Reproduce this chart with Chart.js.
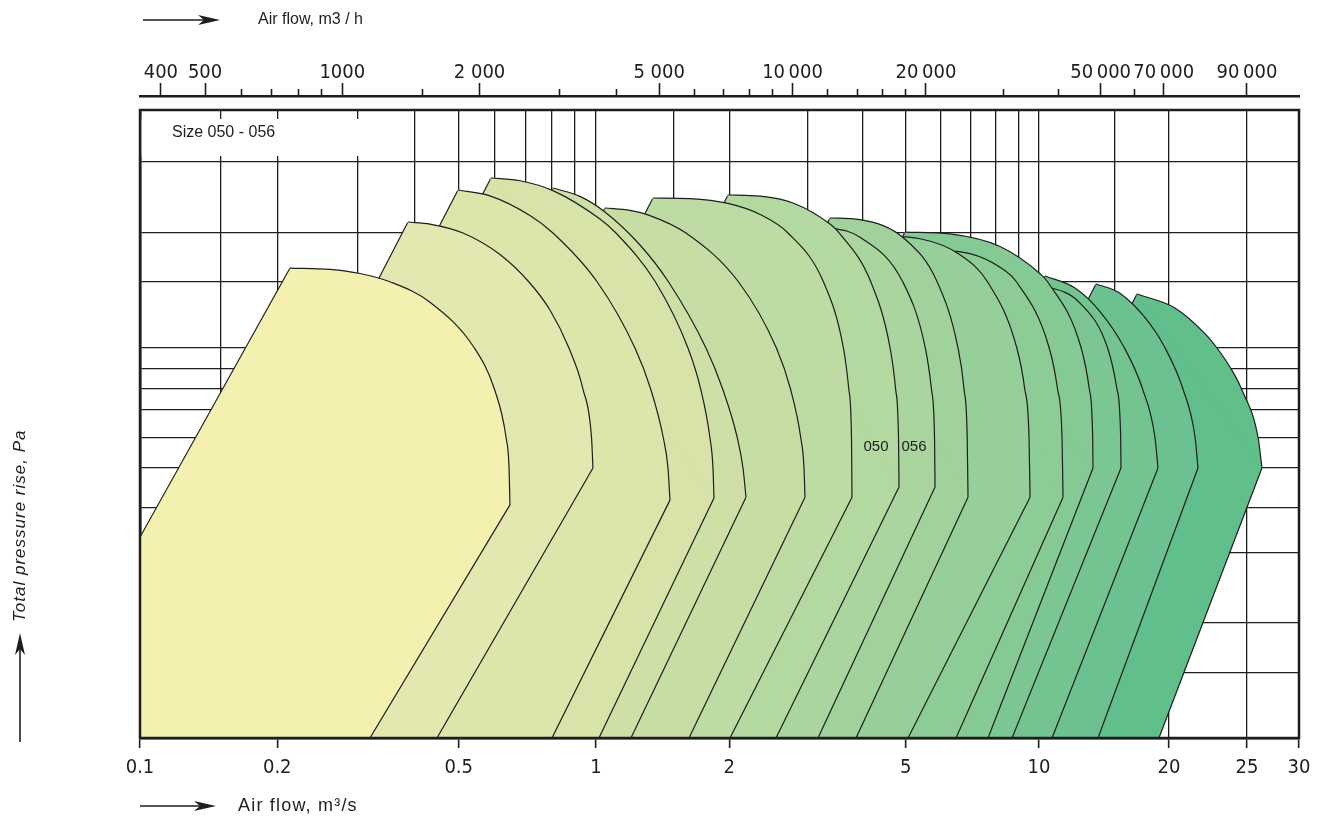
<!DOCTYPE html>
<html><head><meta charset="utf-8">
<script src="https://cdn.jsdelivr.net/npm/chart.js@4.4.1/dist/chart.umd.min.js"></script>
<style>html,body{margin:0;padding:0;background:#fff}#wrap{width:1327px;height:823px}</style>
</head><body><div id="wrap"><canvas id="c" width="1327" height="823"></canvas></div>
<script>
// ---------- axis values ----------
const X_GRID = [0.1,0.15,0.2,0.3,0.4,0.5,0.6,0.7,0.8,0.9,1,1.5,2,3,4,5,6,7,8,9,10,15,20,25,30];
const X_TICK_VALUES = [0.1,0.2,0.5,1,2,5,10,20,25,30];
const X_TICK_LABELS = ['0.1','0.2','0.5','1','2','5','10','20','25','30'];
const TOP_MAJOR_M3H = [400,500,1000,2000,5000,10000,20000,50000,70000,90000];
const TOP_MAJOR_LABELS = ['400','500','1000','2 000','5 000','10\u2009000','20\u2009000','50\u2009000','70\u2009000','90\u2009000'];
const TOP_MINOR_M3H = [600,700,800,900,1500,3000,4000,6000,7000,8000,9000,12000,14000,16000,18000,30000,40000,60000];
const Y_GRID = [100,150,200,300,400,500,600,700,800,900,1000,1500,2000,3000,4000];
// calibration of the printed (non-uniform) log axes: value -> fraction of axis length
const X_WARP_VALUES = [0.1, 1, 10, 20, 25, 30];
const X_WARP_FRACS  = [0, 0.3934, 0.7757, 0.8878, 0.9551, 1];
const Y_WARP_VALUES = Y_GRID;
const Y_WARP_FRACS  = [0, 0.1035, 0.1831, 0.2946, 0.3662, 0.4299, 0.4777, 0.5223, 0.5557, 0.5876, 0.6210, 0.7261, 0.8041, 0.9172, 1];

// ---------- fan regions: [airflow m3/s, total pressure Pa] ----------
// Arc: top curve from peak to knee.  Base: foot of the rising edge, foot of the falling edge.
const r01Arc = [[0.2133,1628],[0.2610,1616],[0.3037,1577],[0.3544,1500],[0.4324,1325],[0.5412,1000],[0.5987,800],[0.6354,600],[0.6448,500],[0.6477,407]];
const r01Base = [[0.0568,100],[0.3194,100]];
const r02Arc = [[0.3870,2130],[0.4324,2105],[0.5109,2000],[0.6158,1763],[0.7130,1500],[0.7927,1263],[0.8725,1000],[0.9365,800],[0.9780,600],[0.9850,500]];
const r02Base = [[0.1006,100],[0.4480,100]];
const r03Arc = [[0.4982,2557],[0.5855,2473],[0.7166,2210],[0.8048,2000],[1.0068,1500],[1.2247,1000],[1.3289,800],[1.4195,600],[1.4539,500],[1.4691,418]];
const r03Base = [[0.1192,100],[0.8008,100]];
const r04Arc = [[0.5885,2738],[0.6813,2696],[0.8048,2548],[1.0210,2166],[1.1095,2000],[1.3625,1500],[1.6131,1000],[1.7233,800],[1.8086,600],[1.8370,500],[1.8466,423]];
const r04Base = [[0.1364,100],[1.0157,100]];
const r05Arc = [[0.8048,2586],[0.9224,2465],[1.0479,2255],[1.2570,1864],[1.4584,1500],[1.7712,1000],[1.9320,800],[2.0853,600],[2.1470,500],[2.1808,425]];
const r05Base = [[0.1914,100],[1.1995,100]];
const r06Arc = [[1.0479,2307],[1.1933,2277],[1.3103,2219],[1.5964,2000],[2.0984,1500],[2.5540,1000],[2.7482,800],[2.8994,600],[2.9481,500],[2.9632,425]];
const r06Base = [[0.2623,100],[1.6216,100]];
const r07Arc = [[1.3448,2443],[1.6300,2434],[1.9860,2368],[2.3453,2224],[2.7128,2000],[3.2625,1500],[3.6180,1000],[3.7209,800],[3.7735,600],[3.7833,425]];
const r07Base = [[0.3256,100],[2.0068,100]];
const r08Arc = [[1.9860,2485],[2.3453,2468],[2.7842,2374],[3.3747,2105],[3.5417,2000],[4.1739,1500],[4.6117,1000],[4.7458,800],[4.8178,600],[4.8304,450]];
const r08Base = [[0.4720,100],[2.5487,100]];
const r09Arc = [[2.8873,2082],[3.3747,2061],[3.9441,1951],[4.9268,1500],[5.5381,1000],[5.7165,800],[5.8094,600],[5.8245,450]];
const r09Base = [[0.7360,100],[3.1704,100]];
const r10Arc = [[3.3747,2179],[3.9441,2158],[4.9835,1929],[5.8914,1500],[6.5637,1000],[6.7716,800],[6.8850,600],[6.9138,425]];
const r10Base = [[0.8389,100],[3.8630,100]];
const r11Arc = [[4.3758,1965],[5.3874,1934],[6.6322,1760],[7.6548,1500],[8.9105,1000],[9.2837,800],[9.4935,600],[9.5429,425]];
const r11Base = [[1.1358,100],[5.0618,100]];
const r12Arc = [[5.6749,1810],[6.9857,1772],[8.1648,1636],[8.8964,1500],[10.559,1000],[11.037,800],[11.305,600],[11.365,425]];
const r12Base = [[1.5290,100],[6.4958,100]];
const r13Arc = [[4.9835,2011],[6.2964,1989],[8.1648,1847],[10.054,1575],[10.475,1500],[12.523,1000],[13.076,800],[13.315,600],[13.336,500]];
const r13Base = [[1.2794,100],[7.6708,100]];
const r14Arc = [[9.0591,1473],[10.604,1449],[12.443,1318],[14.416,1000],[15.156,800],[15.458,600],[15.483,500]];
const r14Base = [[2.6819,100],[8.6910,100]];
const r15Arc = [[10.325,1554],[12.116,1446],[13.843,1251],[15.775,1000],[17.374,800],[18.570,600],[18.860,500]];
const r15Base = [[2.9803,100],[10.718,100]];
const r16Arc = [[13.551,1482],[15.401,1399],[18.072,1160],[19.597,1000],[20.817,800],[21.556,600],[21.730,500]];
const r16Base = [[3.9708,100],[13.696,100]];
const r17Arc = [[16.863,1393],[20.346,1279],[22.170,1092],[22.944,1000],[23.813,909],[24.616,800],[26.001,600],[26.350,500]];
const r17Base = [[5.0487,100],[18.960,100]];

const REGIONS = [
  [r01Arc,r01Base],[r02Arc,r02Base],[r03Arc,r03Base],[r04Arc,r04Base],[r05Arc,r05Base],[r06Arc,r06Base],
  [r07Arc,r07Base],[r08Arc,r08Base],[r09Arc,r09Base],[r10Arc,r10Base],[r11Arc,r11Base],[r12Arc,r12Base],
  [r13Arc,r13Base],[r14Arc,r14Base],[r15Arc,r15Base],[r16Arc,r16Base],[r17Arc,r17Base]
];
const REGION_COLORS = ['#f4f0b0','#e3e8b0','#dce5aa','#d7e3a8','#cfe0a6','#c6dea4','#bddba2','#b3d8a0','#aad59e',
  '#a1d29c','#97cf9a','#8ecc97','#85c995','#7cc693','#74c491','#6bc18f','#60bf8b'];

const REGION_LABELS = ['050','056'];
const REGION_LABEL_X = [4.286, 5.222];
const REGION_LABEL_Y = [568, 568];
const PANEL_TITLE = 'Size 050 - 056';
const X_TITLE = 'Air flow, m\u00b3/s';
const X2_TITLE = 'Air flow, m3 / h';
const Y_TITLE = 'Total pressure rise, Pa';

// ---------- custom scale: log axis printed with non-uniform spacing ----------
const WARPS = {
  x:  {v: X_WARP_VALUES, f: X_WARP_FRACS},
  x2: {v: X_WARP_VALUES, f: X_WARP_FRACS},
  y:  {v: Y_WARP_VALUES, f: Y_WARP_FRACS}
};
function warpFrac(w, v){
  const vs = w.v, fs = w.f;
  let i = 0;
  if (v >= vs[vs.length-1]) i = vs.length-2;
  else if (v > vs[0]) { while (v > vs[i+1]) i++; }
  const l0 = Math.log10(vs[i]), l1 = Math.log10(vs[i+1]);
  return fs[i] + (Math.log10(v)-l0)/(l1-l0)*(fs[i+1]-fs[i]);
}
function unwarp(w, f){
  const vs = w.v, fs = w.f;
  let i = 0;
  if (f >= fs[fs.length-1]) i = fs.length-2;
  else if (f > fs[0]) { while (f > fs[i+1]) i++; }
  const l0 = Math.log10(vs[i]), l1 = Math.log10(vs[i+1]);
  return Math.pow(10, l0 + (f-fs[i])/(fs[i+1]-fs[i])*(l1-l0));
}
class WarpLogScale extends Chart.LogarithmicScale {
  getPixelForValue(value){
    if (value === undefined || value === 0) value = this.min;
    if (value === null || isNaN(value) || value <= 0) return NaN;
    return this.getPixelForDecimal(warpFrac(WARPS[this.id], value));
  }
  getValueForPixel(pixel){ return unwarp(WARPS[this.id], this.getDecimalForPixel(pixel)); }
}
WarpLogScale.id = 'warplog';
Chart.register(WarpLogScale);

// ---------- build ----------
const INK = '#1e1e1e';
const CLEAR = 'rgba(0,0,0,0)';
const TICK_FONT = {family: "'Liberation Sans Narrow','DejaVu Sans Condensed','Liberation Sans',Arial,sans-serif", size: 20, lineHeight: 1};
const pts = a => a.map(([x,y]) => ({x, y}));
const datasets = [];
REGIONS.forEach(([arc, base], i) => {
  const P = arc[0], K = arc[arc.length-1], L = base[0], B = base[1];
  const col = REGION_COLORS[i], k = 4*i;
  // k: falling edge + foot (outline)
  datasets.push({data: pts([L, B, K]), borderColor: INK, borderWidth: 1.2, pointRadius: 0, fill: false});
  // k+1: top curve, filled down to the chord
  datasets.push({data: pts(arc), borderColor: INK, borderWidth: 1.2, pointRadius: 0, cubicInterpolationMode: 'monotone',
    fill: k + 3, backgroundColor: col});
  // k+2: rising edge + chord, filled down to dataset k
  datasets.push({data: pts([L, P, K]), borderColor: INK, borderWidth: 1.2, pointRadius: 0, fill: k, backgroundColor: col,
    segment: {borderColor: c => c.p0DataIndex === 1 ? col : undefined, borderWidth: c => c.p0DataIndex === 1 ? 2 : undefined}});
  // k+3: chord (fill target only)
  datasets.push({data: pts([P, K]), borderColor: CLEAR, borderWidth: 1, pointRadius: 0, fill: false});
});
const topTicks = TOP_MAJOR_M3H.map((v,i) => ({m3h: v, label: TOP_MAJOR_LABELS[i], major: true}))
  .concat(TOP_MINOR_M3H.map(v => ({m3h: v, label: '', major: false})))
  .sort((a,b) => a.m3h - b.m3h);

function arrow(ctx, x1, y1, x2, y2){
  const ang = Math.atan2(y2-y1, x2-x1);
  const len = Math.hypot(x2-x1, y2-y1);
  ctx.save();
  ctx.translate(x2, y2); ctx.rotate(ang);
  ctx.strokeStyle = INK; ctx.fillStyle = INK; ctx.lineWidth = 1.6;
  ctx.beginPath(); ctx.moveTo(-len, 0); ctx.lineTo(-14, 0); ctx.stroke();
  ctx.beginPath(); ctx.moveTo(0, 0); ctx.lineTo(-22, -5); ctx.lineTo(-16, 0); ctx.lineTo(-22, 5); ctx.closePath(); ctx.fill();
  ctx.restore();
}

const decor = {
  id: 'decor',
  beforeDatasetsDraw(chart){
    const {ctx, chartArea: a} = chart;
    ctx.save();
    ctx.fillStyle = '#fff';
    ctx.fillRect(a.left + 1.5, a.top + 9, 405 - a.left, 37);
    ctx.fillStyle = INK;
    ctx.font = '16px "Liberation Sans", Arial, sans-serif';
    ctx.textBaseline = 'middle';
    ctx.fillText(PANEL_TITLE, 172, a.top + 23);
    ctx.restore();
  },
  afterDatasetsDraw(chart){
    const {ctx, chartArea: a} = chart;
    ctx.save();
    ctx.strokeStyle = INK; ctx.lineWidth = 2.5;
    ctx.strokeRect(a.left, a.top, a.right - a.left, a.bottom - a.top);
    const xs = chart.scales.x, ys = chart.scales.y;
    ctx.fillStyle = INK;
    ctx.font = '15px "Liberation Sans", Arial, sans-serif';
    ctx.textAlign = 'center'; ctx.textBaseline = 'middle';
    REGION_LABELS.forEach((t, i) => ctx.fillText(t, xs.getPixelForValue(REGION_LABEL_X[i]), ys.getPixelForValue(REGION_LABEL_Y[i])));
    ctx.restore();
  },
  afterDraw(chart){
    const {ctx} = chart;
    ctx.save();
    ctx.fillStyle = INK; ctx.textBaseline = 'middle'; ctx.textAlign = 'left';
    arrow(ctx, 143, 20, 220, 20);
    ctx.font = '16px "Liberation Sans", Arial, sans-serif';
    ctx.fillText(X2_TITLE, 258, 20);
    arrow(ctx, 140, 806, 216, 806);
    ctx.font = '18px "Liberation Sans", Arial, sans-serif';
    if ('letterSpacing' in ctx) ctx.letterSpacing = '1.2px';
    ctx.fillText(X_TITLE, 238, 806);
    arrow(ctx, 20, 742, 20, 633);
    ctx.translate(20, 622); ctx.rotate(-Math.PI/2);
    ctx.font = 'italic 17px "Liberation Sans", Arial, sans-serif';
    if ('letterSpacing' in ctx) ctx.letterSpacing = '1px';
    ctx.fillText(Y_TITLE, 0, 0);
    ctx.restore();
  }
};

new Chart(document.getElementById('c'), {
  type: 'line',
  data: {datasets},
  plugins: [decor],
  options: {
    responsive: false, animation: false, devicePixelRatio: 1, events: [],
    layout: {padding: {left: 0, right: 28, top: 0, bottom: 0}},
    plugins: {legend: {display: false}, tooltip: {enabled: false}},
    elements: {point: {radius: 0}, line: {tension: 0}},
    scales: {
      x: {
        type: 'warplog', position: 'bottom', min: 0.1, max: 30,
        afterBuildTicks: s => { s.ticks = X_GRID.map(v => ({value: v})); },
        afterFit: s => { s.height = 85; },
        ticks: {autoSkip: false, maxRotation: 0, minRotation: 0, padding: 10, color: INK, font: TICK_FONT,
          callback: v => { const k = X_TICK_VALUES.indexOf(v); return k >= 0 ? X_TICK_LABELS[k] : ''; }},
        grid: {
          color: c => (c.tick && (c.tick.value === 0.1 || c.tick.value === 30)) ? CLEAR : INK,
          lineWidth: 1.3, tickLength: 10, tickWidth: 1.6,
          tickColor: c => (c.tick && X_TICK_VALUES.includes(c.tick.value)) ? INK : CLEAR
        },
        border: {display: true, color: INK, width: 2.5}
      },
      x2: {
        type: 'warplog', position: 'top', min: 0.1, max: 30, weight: 1,
        afterBuildTicks: s => { s.ticks = topTicks.map(t => ({value: t.m3h / 3600})); },
        afterFit: s => { s.height = 96; },
        ticks: {autoSkip: false, maxRotation: 0, minRotation: 0, padding: 0, color: INK, font: TICK_FONT,
          callback: (v, i) => topTicks[i] ? topTicks[i].label : ''},
        grid: {drawOnChartArea: false, tickLength: 13, tickWidth: 1.6, tickColor: INK,
          tickBorderDash: c => (topTicks[c.index] && !topTicks[c.index].major) ? [0, 6, 7, 0] : []},
        border: {display: true, color: INK, width: 2.5}
      },
      xgap: {
        type: 'linear', position: 'top', weight: 0, display: true,
        ticks: {display: false}, grid: {display: false, drawTicks: false}, border: {display: false},
        afterFit: s => { s.height = 14; }
      },
      y: {
        type: 'warplog', position: 'left', min: 100, max: 4000,
        afterBuildTicks: s => { s.ticks = Y_GRID.map(v => ({value: v})); },
        afterFit: s => { s.width = 140; },
        ticks: {display: false},
        grid: {color: INK, lineWidth: 1.3, drawTicks: false},
        border: {display: true, color: INK, width: 2.5}
      }
    }
  }
});
</script>
</body></html>
